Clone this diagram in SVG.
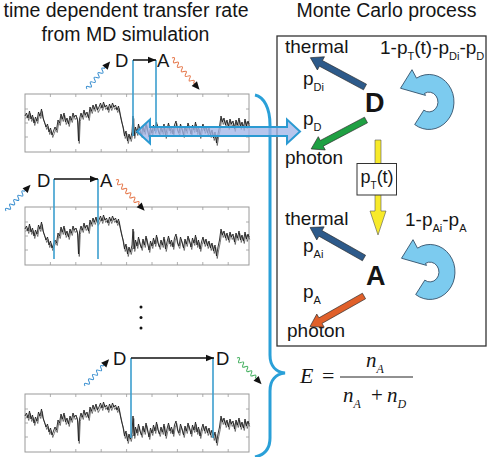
<svg xmlns="http://www.w3.org/2000/svg" width="488" height="457" viewBox="0 0 488 457">
<style>
text{font-family:"Liberation Sans",Arial,sans-serif;fill:#151515}
.title{font-size:19.5px}
.lbl{font-size:19px}
.sub{font-size:11px}
.st{font-size:18.5px}
.big{font-size:27px;font-weight:bold}
.frame{fill:none;stroke:#9a9a9a;stroke-width:1}
.tick{stroke:#9a9a9a;stroke-width:0.8}
.trace{fill:none;stroke:#1c1c1c;stroke-width:0.9;stroke-linejoin:round}
.trace2{fill:none;stroke:#555;stroke-width:0.8;stroke-linejoin:round}
.vline{stroke:#3c9fcf;stroke-width:1.6;fill:none}
.harrow{stroke:#111;stroke-width:1.5;fill:none;marker-end:url(#blk)}
.fat{stroke:#2a2a2a;stroke-width:0.6}
.loop{fill:#7ccbef;stroke:#2a4660;stroke-width:0.8}
.eq{font-family:"Liberation Serif","Times New Roman",serif;font-style:italic}
.rm{font-family:"Liberation Serif","Times New Roman",serif}
</style>
<defs>
<marker id="blk" viewBox="0 0 10 10" refX="10" refY="5" markerWidth="8" markerHeight="8" markerUnits="userSpaceOnUse" orient="auto"><path d="M0,1 L10,5 L0,9 z" fill="#111"/></marker>
<g id="frame">
<rect class="frame" x="0" y="0" width="224" height="58"/>
<path class="tick" d="M25.4,0v3M50.8,0v3M76.2,0v3M101.6,0v3M127,0v3M152.4,0v3M177.8,0v3M203.2,0v3M25.4,58v-3M50.8,58v-3M76.2,58v-3M101.6,58v-3M127,58v-3M152.4,58v-3M177.8,58v-3M203.2,58v-3M0,15h3M0,29h3M0,43h3M224,15h-3M224,29h-3M224,43h-3"/>
</g>
<polyline id="tr" points="0,22 1.5,19 3,24 4.5,17 6,25 7.5,21 9,29 10.5,23 12,27 13.5,18 15,22 16.5,15 18,24 19.5,28 21,33 22.5,30 24,38 25.5,34 27,41 28.5,37 30,33 31.5,36 33,26 34.5,29 36,20 37.5,25 39,19 40.5,28 42,24 43.5,30 45,22 46.5,26 48,19 49.5,23 51,21 52.5,26 53.5,47 54.5,25 56,19 57.5,23 59,16 60.5,21 62,18 63.5,24 65,13 66.5,17 68,11 69.5,15 71,10 72.5,16 74,13 75.5,9 77,14 78.5,8 80,13 81.5,11 83,16 84.5,10 86,14 87.5,9 89,13 90.5,11 92,16 93.5,12 95,20 96.5,27 98,33 99.5,42 101,37 102.5,47 104,40 105.5,45 107,38 108,22 109,42 110.5,33 112,39 113.5,30 115,37 116.5,41 118,32 119.5,38 121,29 122.5,36 124,43 125.5,34 127,39 128.5,31 130,37 131.5,28 133,36 134.5,40 136,33 137.5,38 139,30 140.5,42 142,35 143.5,29 145,37 146.5,33 148,40 149.5,31 151,27 152.5,36 154,39 155.5,30 157,35 158.5,41 160,32 161.5,37 163,29 164.5,34 166,40 167.5,31 169,36 170.5,28 172,38 173.5,33 175,42 176.5,35 178,30 179.5,37 181,32 182.5,39 184,34 185.5,41 187,36 188.5,44 190,38 191.5,49 193,40 194.5,33 196,22 197.5,28 199,24 200.5,31 202,26 203.5,33 205,25 206.5,30 208,27 209.5,35 211,26 212.5,31 214,24 215.5,33 217,28 218.5,34 220,25 221.5,32 223,27 224,30"/>
<g id="trace">
<use href="#tr" class="trace2" transform="translate(0.75,2.5)"/>
<use href="#tr" class="trace"/>
</g>
<g id="waveS"><path d="M0,0 q1.5,-4 3,0 t3,0 t3,0 t3,0 t3,0 t3,0 t3,0 t3,0 t3,0 L29,0" fill="none" stroke-width="1"/><polygon points="28,-3.5 36,0 28,3.5" fill="#111" stroke="none"/></g>
<g id="waveL"><path d="M0,0 q1.5,-4 3,0 t3,0 t3,0 t3,0 t3,0 t3,0 t3,0 t3,0 t3,0 t3,0 t3,0 L35,0" fill="none" stroke-width="1"/><polygon points="34,-3.5 42,0 34,3.5" fill="#111" stroke="none"/></g>
<polygon id="fat" points="0,-3.2 50,-3.2 50,-7.5 62,0 50,7.5 50,3.2 0,3.2"/>
<path id="loop" d="M-14.3,20.5 A25,25 0 1 0 -12.5,-21.7 L-17,-29.4 L-28.5,-12.5 L-3.5,-6 L-4.5,-7.8 A9,9 0 1 1 -5.2,7.4 Z"/>
</defs>

<g id="titles">
<text class="title" x="126" y="17" text-anchor="middle">time dependent transfer rate</text>
<text class="title" x="125.5" y="40.5" text-anchor="middle">from MD simulation</text>
<text class="title" x="386.5" y="17" text-anchor="middle">Monte Carlo process</text>
</g>

<g id="plot1">
<use href="#frame" transform="translate(25,94)"/>
<use href="#trace" transform="translate(25,94)"/>
<text class="st" x="115" y="66.5">D</text>
<text class="st" x="157" y="66.5">A</text>
</g>
<g id="plot2">
<use href="#frame" transform="translate(25,207)"/>
<use href="#trace" transform="translate(25,207)"/>
<text class="st" x="37" y="186.5">D</text>
<text class="st" x="100" y="186.5">A</text>
</g>
<g id="dots" fill="#111">
<circle cx="141" cy="307" r="1.5"/><circle cx="141" cy="317.5" r="1.5"/><circle cx="141" cy="328" r="1.5"/>
</g>
<g id="plot3">
<use href="#frame" transform="translate(25,394)"/>
<use href="#trace" transform="translate(25,394)"/>
<text class="st" x="113" y="365">D</text>
<text class="st" x="216" y="365">D</text>
</g>

<g id="mc-box">
<rect x="277" y="36" width="209" height="310" fill="none" stroke="#333" stroke-width="1.3"/>
</g>

<g id="D-state">
<text class="big" x="365" y="112">D</text>
<text class="lbl" x="285" y="53">thermal</text>
<text class="lbl" x="285" y="164">photon</text>
<text class="lbl" x="303" y="85">p<tspan class="sub" dy="5.5">Di</tspan></text>
<text class="lbl" x="303" y="125">p<tspan class="sub" dy="5.5">D</tspan></text>
<text class="lbl" x="380" y="54">1-p<tspan class="sub" dy="5.5">T</tspan><tspan dy="-5.5">(t)-p</tspan><tspan class="sub" dy="5.5">Di</tspan><tspan dy="-5.5">-p</tspan><tspan class="sub" dy="5.5">D</tspan></text>
<use href="#loop" class="loop" transform="translate(429,102) scale(1,1.1)"/>
</g>

<g id="A-state">
<text class="big" x="366" y="285">A</text>
<text class="lbl" x="285" y="225">thermal</text>
<text class="lbl" x="287" y="337">photon</text>
<text class="lbl" x="303" y="252">p<tspan class="sub" dy="6">Ai</tspan></text>
<text class="lbl" x="303" y="298">p<tspan class="sub" dy="6">A</tspan></text>
<text class="lbl" x="405" y="226">1-p<tspan class="sub" dy="5.5">Ai</tspan><tspan dy="-5.5">-p</tspan><tspan class="sub" dy="5.5">A</tspan></text>
<use href="#loop" class="loop" transform="translate(430,272) scale(1,1.1)"/>
</g>

<g id="connectors">
<path class="vline" d="M133,60V136M156,60V132M54,179V259M98,179V259M131,358V438M213,358V438"/>
<line class="harrow" x1="133" y1="60" x2="156" y2="60"/>
<line class="harrow" x1="54" y1="179" x2="98" y2="179"/>
<line class="harrow" x1="131" y1="358" x2="214" y2="358"/>
<use href="#waveS" stroke="#3a8fd0" transform="translate(87,89) rotate(-50)"/>
<use href="#waveL" stroke="#e5774a" transform="translate(172,58) rotate(49)"/>
<use href="#waveS" stroke="#3a8fd0" transform="translate(6,211) rotate(-47)"/>
<use href="#waveL" stroke="#e5774a" transform="translate(116,180) rotate(47)"/>
<use href="#waveS" stroke="#3a8fd0" transform="translate(85,386) rotate(-48)"/>
<use href="#waveS" stroke="#45b060" transform="translate(237,358) rotate(47)"/>
<path d="M255,95 C264,97 270,108 270,125 L270,355 C270,366 276,372 285,373 C276,374 270,380 270,391 L270,438 C270,450 264,455 255,457" fill="none" stroke="#2aa0d8" stroke-width="3"/>
<polygon points="137,131.5 150,119.5 150,127 287,127 287,119.5 300,131.5 287,143.5 287,136 150,136 150,143.5" fill="#a3b6e8" fill-opacity="0.78" stroke="#2b9ad2" stroke-width="2"/>
<use href="#fat" class="fat" fill="#2d5a8a" transform="translate(365,87) rotate(208.2)"/>
<use href="#fat" class="fat" fill="#1fa043" transform="translate(366,120) rotate(152.2)"/>
<use href="#fat" class="fat" fill="#2d5a8a" transform="translate(364,258) rotate(209.5)"/>
<use href="#fat" class="fat" fill="#e0602a" transform="translate(364,296) rotate(150.5)"/>
<polygon points="375,140 381,140 381,211 386,211 378,235 370,211 375,211" fill="#f7ea2a" stroke="#555" stroke-width="0.6"/>
</g>

<g id="pT-box">
<rect x="357" y="163.5" width="39.5" height="31.5" fill="#fff" stroke="#333" stroke-width="1"/>
<text x="360.5" y="183" font-size="18">p<tspan font-size="10" dy="6">T</tspan><tspan dy="-6">(t)</tspan></text>
</g>

<g id="equation">
<text class="eq" x="300" y="383" font-size="22">E</text>
<text class="rm" x="322" y="383" font-size="22">=</text>
<line x1="340" y1="377" x2="413" y2="377" stroke="#222" stroke-width="1"/>
<text class="eq" x="366" y="367" font-size="21">n<tspan font-size="12" dy="6">A</tspan></text>
<text class="eq" x="343" y="402" font-size="21">n<tspan font-size="12" dy="6">A</tspan></text>
<text class="rm" x="371" y="402" font-size="21">+</text>
<text class="eq" x="387" y="402" font-size="21">n<tspan font-size="12" dy="6">D</tspan></text>
</g>
</svg>
